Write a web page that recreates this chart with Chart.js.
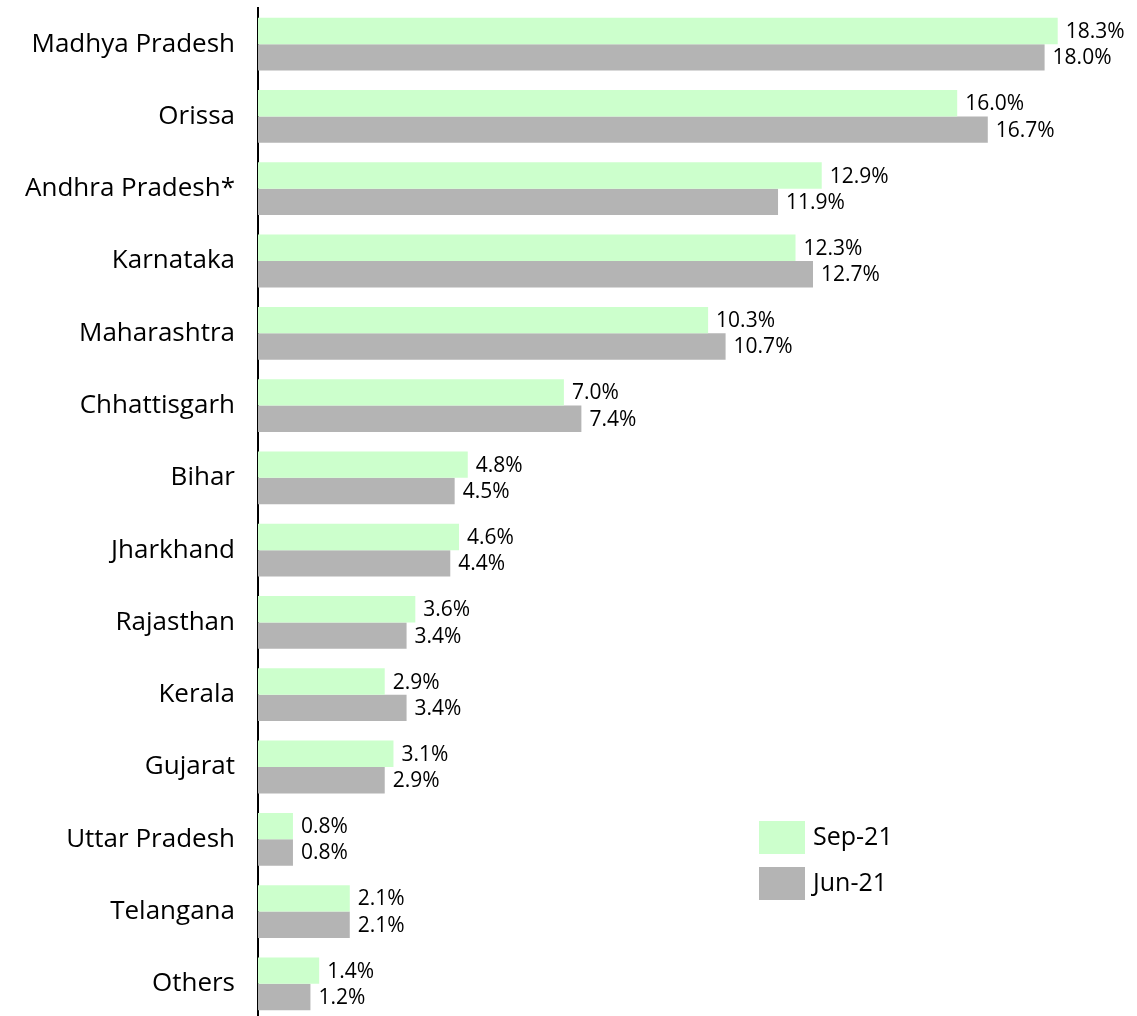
<!DOCTYPE html>
<html>
<head>
<meta charset="utf-8">
<script src="https://cdn.jsdelivr.net/npm/chart.js@4.4.1/dist/chart.umd.min.js"></script>
<style>
  html, body { margin: 0; padding: 0; background: #fff; overflow: hidden; }
  #wrap { position: relative; width: 1137px; height: 1020px; }
</style>
</head>
<body>
<div id="wrap"><canvas id="chart"></canvas></div>
<script>
// state-wise share, two quarters
const states = [
    "Madhya Pradesh", "Orissa", "Andhra Pradesh*", "Karnataka", "Maharashtra",
    "Chhattisgarh", "Bihar", "Jharkhand", "Rajasthan", "Kerala",
    "Gujarat", "Uttar Pradesh", "Telangana", "Others",
];
const sep21 = [18.3, 16.0, 12.9, 12.3, 10.3, 7.0, 4.8, 4.6, 3.6, 2.9, 3.1, 0.8, 2.1, 1.4];
const jun21 = [18.0, 16.7, 11.9, 12.7, 10.7, 7.4, 4.5, 4.4, 3.4, 3.4, 2.9, 0.8, 2.1, 1.2];
const seriesNames = ["Sep-21", "Jun-21"];

const FONT = "'Open Sans', 'Noto Sans', sans-serif";
const GREEN = "#ccffcc";
const GREY = "#b4b4b4";

// value labels at the end of each bar
const valueLabels = {
    id: "valueLabels",
    afterDatasetsDraw(chart) {
        const ctx = chart.ctx;
        ctx.save();
        ctx.font = "21px " + FONT;
        ctx.fillStyle = "#000";
        ctx.textAlign = "left";
        ctx.textBaseline = "middle";
        chart.data.datasets.forEach((ds, di) => {
            chart.getDatasetMeta(di).data.forEach((bar, i) => {
                ctx.fillText(ds.data[i].toFixed(1) + "%", bar.x + 8, bar.y + 1);
            });
        });
        ctx.restore();
    },
};

// legend sitting inside the plot, lower right
const boxLegend = {
    id: "boxLegend",
    afterDraw(chart) {
        const ctx = chart.ctx;
        ctx.save();
        ctx.font = "25px " + FONT;
        ctx.textBaseline = "middle";
        chart.data.datasets.forEach((ds, i) => {
            const y = 821 + i * 46;
            ctx.fillStyle = ds.backgroundColor;
            ctx.fillRect(759, y, 46, 33);
            ctx.fillStyle = "#000";
            ctx.fillText(ds.label, 813, y + 17);
        });
        ctx.restore();
    },
};

new Chart(document.getElementById("chart"), {
    type: "bar",
    data: {
        labels: states,
        datasets: [
            { label: seriesNames[0], data: sep21, backgroundColor: GREEN },
            { label: seriesNames[1], data: jun21, backgroundColor: GREY },
        ],
    },
    options: {
        indexAxis: "y",
        responsive: true,
        maintainAspectRatio: false,
        animation: false,
        categoryPercentage: 0.73,
        barPercentage: 1.0,
        layout: { padding: { top: 8, right: 5, bottom: 0, left: 0 } },
        plugins: {
            legend: { display: false },
            tooltip: { enabled: false },
        },
        scales: {
            x: {
                display: false,
                min: 0,
                max: 20,
            },
            y: {
                afterFit: (scale) => {
                    scale.width = 258;
                    scale.paddingTop = 0;
                    scale.paddingBottom = 0;
                },
                grid: { display: false },
                border: { display: true, color: "#000", width: 2 },
                ticks: {
                    color: "#000",
                    padding: 15,
                    font: { family: FONT, size: 26 },
                },
            },
        },
    },
    plugins: [valueLabels, boxLegend],
});
</script>
</body>
</html>
